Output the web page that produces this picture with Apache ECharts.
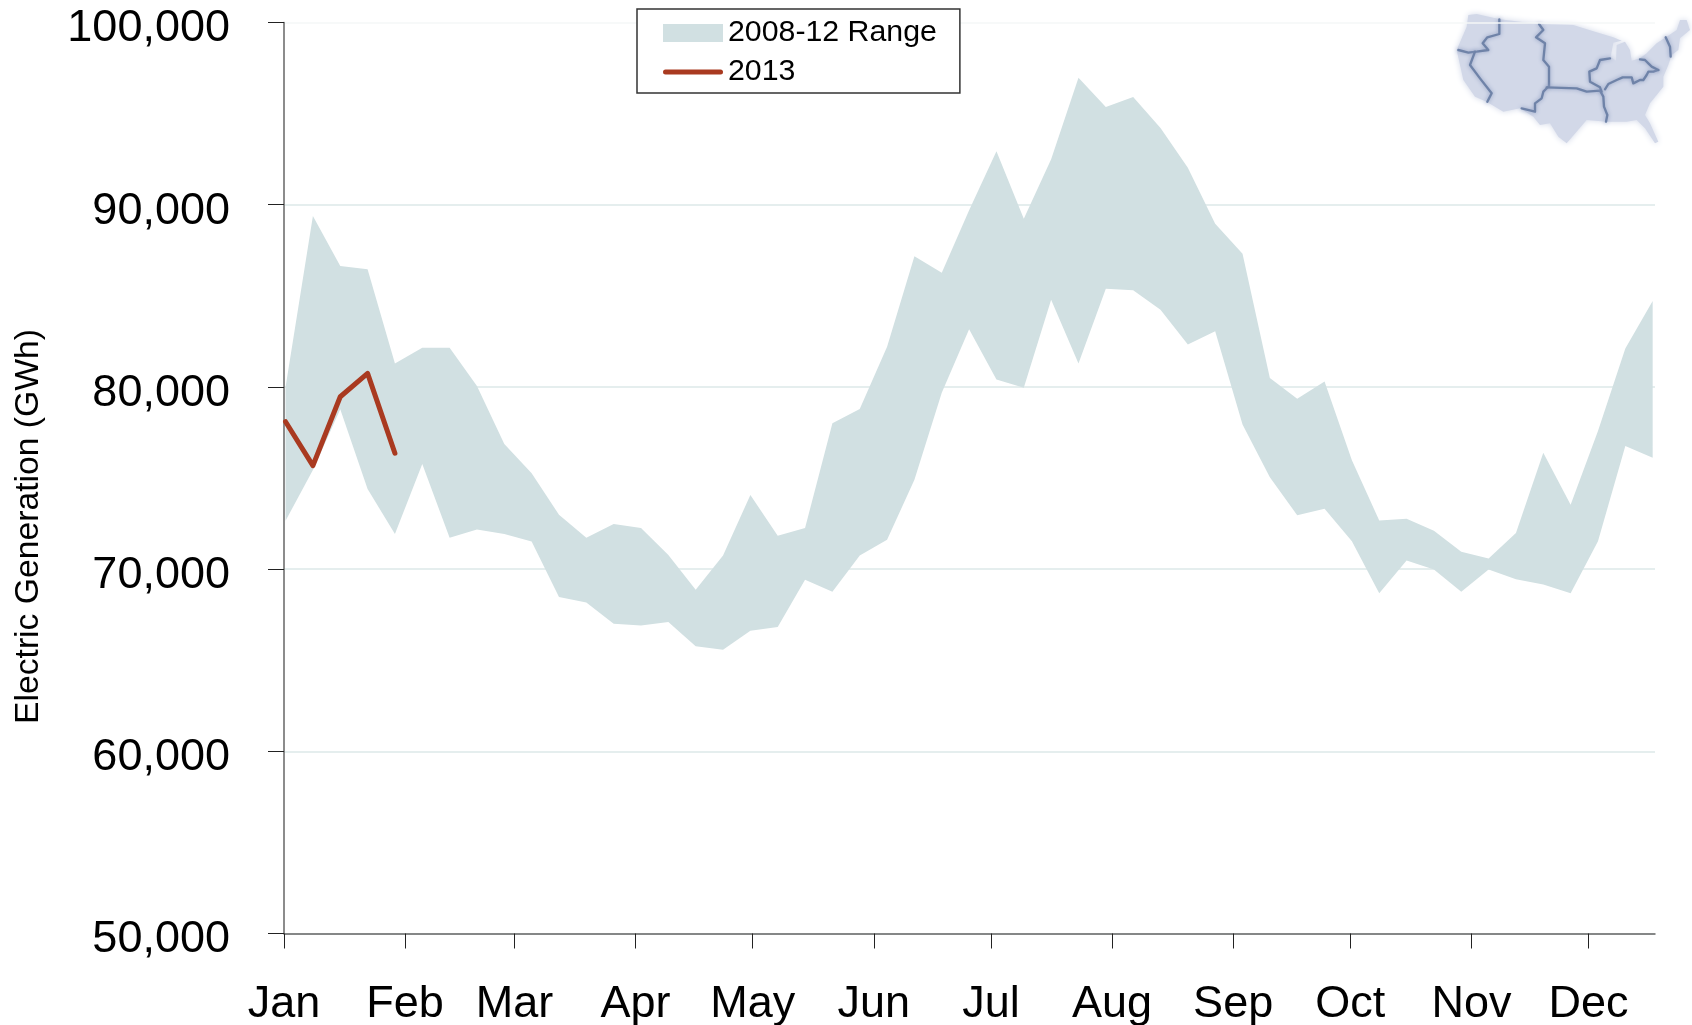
<!DOCTYPE html>
<html><head><meta charset="utf-8">
<script src="https://cdn.jsdelivr.net/npm/echarts@6/dist/echarts.min.js"></script>
<style>html,body{margin:0;padding:0;background:#fff}#c{width:1692px;height:1025px}</style>
</head><body><div id="c"></div>
<script>
const monthLabels = ['Jan','Feb','Mar','Apr','May','Jun','Jul','Aug','Sep','Oct','Nov','Dec'];
const monthStartDays = [0,31,59,90,120,151,181,212,243,273,304,334];
const yTicks = [50000,60000,70000,80000,90000,100000];
const weekDays = [0.4,7.4,14.4,21.4,28.4,35.4,42.4,49.4,56.4,63.4,70.4,77.4,84.4,91.4,98.4,105.4,112.4,119.4,126.4,133.4,140.4,147.4,154.4,161.4,168.4,175.4,182.4,189.4,196.4,203.4,210.4,217.4,224.4,231.4,238.4,245.4,252.4,259.4,266.4,273.4,280.4,287.4,294.4,301.4,308.4,315.4,322.4,329.4,336.4,343.4,350.4];
const rangeLow = [72660,75440,78770,74400,71920,75770,71720,72170,71920,71520,68470,68170,67000,66910,67100,65760,65580,66620,66820,69410,68760,70750,71610,74900,79680,83160,80400,79950,84780,81280,85390,85300,84240,82330,83060,77930,75040,72950,73310,71530,68670,70470,69980,68760,69980,69440,69160,68670,71530,76760,76110];
const rangeHigh = [80000,89380,86640,86460,81290,82150,82150,80050,76870,75260,72980,71720,72470,72260,70780,68860,70750,74070,71830,72260,78000,78790,82200,87170,86270,89690,92930,89230,92490,96970,95360,95910,94210,92030,88960,87310,80490,79350,80290,75980,72670,72760,72110,70950,70580,71980,76380,73530,77580,82110,84710];
const values2013 = [78090,75680,79460,80740,76360];
const mapOutline = [[205,45],[230,42],[300,58],[415,72],[520,75],[585,95],[600,100],[640,112],[665,122],[640,128],[632,170],[648,182],[650,135],[675,125],[690,150],[695,182],[720,175],[740,160],[770,130],[800,110],[830,90],[840,60],[860,60],[870,90],[840,115],[835,150],[815,165],[805,195],[790,230],[790,260],[750,310],[735,345],[750,370],[775,425],[765,430],[735,385],[710,360],[680,365],[620,365],[560,360],[500,430],[475,410],[450,370],[420,375],[400,350],[360,325],[310,335],[260,305],[225,290],[190,240],[170,150],[200,80]];
const mapBorders = [
 [[298,58],[298,102],[262,112],[248,130],[265,150],[230,155],[205,158],[175,150]],
 [[225,155],[210,195],[240,235],[275,280],[262,305]],
 [[417,72],[430,90],[408,112],[435,130],[430,180],[447,200],[447,258],[430,275],[425,295],[405,310],[405,335],[365,325]],
 [[440,262],[530,265],[560,275],[600,272],[610,290],[612,320],[622,345],[618,365]],
 [[630,175],[600,180],[590,205],[568,215],[570,245],[600,262],[605,275]],
 [[615,268],[625,252],[650,240],[668,232],[695,232],[700,250],[720,240],[730,240],[740,225],[745,215],[760,215],[775,210]],
 [[720,178],[735,180],[745,190],[755,200],[775,210]],
 [[797,112],[810,140],[812,170]]
];
const BAND = '#d1e0e2', LINE = '#a93a20', FONT = '"Liberation Sans", Arial, sans-serif';
const LINE_ICON = 'path://M2.5,0 L57.5,0 A2.5,2.5 0 0 1 57.5,5 L2.5,5 A2.5,2.5 0 0 1 2.5,0 Z';
const chart = echarts.init(document.getElementById('c'));
chart.setOption({
  animation:false, backgroundColor:'#fff',
  textStyle:{fontFamily:FONT,color:'#000'},
  grid:{left:284,top:22.5,width:1371,height:911,containLabel:false,outerBoundsMode:'none'},
  legend:{
    left:637, top:9, orient:'vertical', align:'left',
    padding:[9,23,6,26], itemGap:9, itemWidth:60, itemHeight:18,
    borderColor:'#333', borderWidth:1.5, backgroundColor:'#fff',
    textStyle:{fontSize:30.3,color:'#000',fontFamily:FONT},
    data:[
      {name:'2008-12 Range',icon:'rect',itemStyle:{color:BAND}},
      {name:'2013',icon:LINE_ICON,itemStyle:{color:LINE}}
    ]
  },
  xAxis:{
    type:'value', min:0, max:351, splitLine:{show:false},
    axisLine:{show:true,onZero:false,lineStyle:{color:'#666',width:1.5}},
    axisTick:{show:true,length:15,customValues:monthStartDays,lineStyle:{color:'#222',width:1}},
    axisLabel:{customValues:monthStartDays,margin:49,fontSize:45,color:'#000',fontFamily:FONT,
      formatter:v=>monthLabels[monthStartDays.indexOf(v)]||''}
  },
  yAxis:{
    type:'value', min:50000, max:100000, interval:10000,
    name:'Electric Generation (GWh)', nameLocation:'middle', nameGap:238, nameRotate:90,
    nameTextStyle:{fontSize:33.7,color:'#000',fontFamily:FONT,padding:[0,97,0,0]},
    axisLine:{show:true,onZero:false,lineStyle:{color:'#666',width:1.5}},
    axisTick:{show:true,length:16,lineStyle:{color:'#222',width:1}},
    axisLabel:{margin:54,fontSize:45,color:'#000',fontFamily:FONT,verticalAlign:'top',lineHeight:13,
      formatter:v=>v.toLocaleString('en-US')},
    splitLine:{show:true,lineStyle:{color:['#dce8e9','#dce8e9','#dce8e9','#dce8e9','#dce8e9','#f4f7f7'],width:1.5}}
  },
  series:[
    {name:'2008-12 Range',type:'custom',silent:true,
     itemStyle:{color:BAND},
     encode:{x:0,y:[1,2]},
     data:weekDays.map((d,i)=>[d,rangeLow[i],rangeHigh[i]]),
     renderItem:(params,api)=>{
       if(params.dataIndex!==0) return null;
       const top=weekDays.map((d,i)=>api.coord([d,rangeHigh[i]]));
       const bottom=weekDays.map((d,i)=>api.coord([d,rangeLow[i]])).reverse();
       return {type:'polygon',shape:{points:top.concat(bottom)},style:{fill:BAND}};
     }},
    {name:'2013',type:'line',silent:true,showSymbol:false,symbol:'none',z:5,
     itemStyle:{color:LINE},lineStyle:{color:LINE,width:5,cap:'round',join:'round'},
     data:values2013.map((v,i)=>[weekDays[i],v])}
  ],
  graphic:[{
    type:'group', x:1400, y:0, scaleX:1/3, scaleY:1/3, silent:true,
    children:[
      {type:'polygon',shape:{points:mapOutline},style:{fill:'#d2d8e8',shadowBlur:6,shadowColor:'#d2d8e8'}}
    ].concat(mapBorders.map(p=>({type:'polyline',shape:{points:p},
      style:{fill:null,stroke:'#6f83a8',lineWidth:7,lineJoin:'round',lineCap:'round',shadowBlur:4,shadowColor:'#8d9cc0'}})))
  }]
});
</script></body></html>
